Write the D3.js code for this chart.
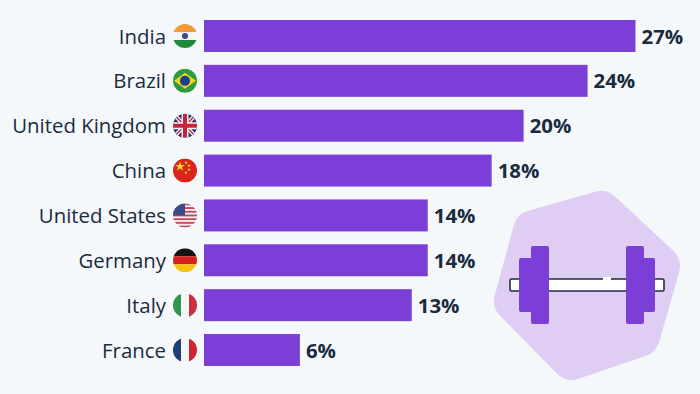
<!DOCTYPE html>
<html>
<head>
<meta charset="utf-8">
<script src="https://cdn.jsdelivr.net/npm/d3@7"></script>
<style>
html, body { margin: 0; padding: 0; background: #f4f8fb; }
svg { display: block; }
text { font-family: "Open Sans", sans-serif; }
</style>
</head>
<body>
<div class="canvas"></div>
<script>
// data
const countries = ['India', 'Brazil', 'United Kingdom', 'China', 'United States', 'Germany', 'Italy', 'France'];
const shares = [27, 24, 20, 18, 14, 14, 13, 6];

const width = 700;
const height = 394;
const textColor = '#1b2b3d';
const barColor = '#7b3fd8';

const svg = d3.select('.canvas')
  .append('svg')
  .attr('width', width)
  .attr('height', height);

// scales
const x = d3.scaleLinear()
  .domain([0, 27])
  .range([204, 635.5]);

const y = d3.scaleBand()
  .domain(countries)
  .range([20, 366])
  .paddingInner(0.287);

// blob behind the dumbbell
svg.append('path')
  .attr('d', 'M601 212 L659 266 L639 336 L572 359 L515 301 L534 231 Z')
  .attr('fill', '#dfcdf3')
  .attr('stroke', '#dfcdf3')
  .attr('stroke-width', 42)
  .attr('stroke-linejoin', 'round');

// bars
svg.selectAll('rect.bar')
  .data(countries)
  .enter()
  .append('rect')
  .attr('class', 'bar')
  .attr('x', x(0))
  .attr('y', d => y(d))
  .attr('width', (d, i) => x(shares[i]) - x(0))
  .attr('height', y.bandwidth())
  .attr('fill', barColor);

// value labels
svg.selectAll('text.value')
  .data(countries)
  .enter()
  .append('text')
  .attr('class', 'value')
  .attr('x', (d, i) => x(shares[i]) + 6)
  .attr('y', d => y(d) + y.bandwidth() / 2 + 0.5)
  .attr('dy', '0.35em')
  .attr('font-size', 20.4)
  .attr('font-weight', 700)
  .attr('fill', textColor)
  .text((d, i) => shares[i] + '%');

// country labels
const yAxis = d3.axisLeft(y).tickSize(0).tickPadding(0);
const yAxisGroup = svg.append('g')
  .attr('transform', 'translate(166,1)')
  .call(yAxis);
yAxisGroup.select('.domain').remove();
yAxisGroup.selectAll('text')
  .attr('font-family', '"Open Sans", sans-serif')
  .attr('font-size', 20.4)
  .attr('fill', textColor);

// flags, drawn in a 24x24 box centred on 0,0
const flagDraw = {
  India: g => {
    band(g, -12, 8, '#f29a38'); band(g, -4, 8, '#f6f6f4'); band(g, 4, 8, '#1f8a3c');
    g.append('circle').attr('r', 3).attr('fill', '#3b4a86');
  },
  Brazil: g => {
    band(g, -12, 24, '#2f9a3e');
    g.append('path').attr('d', 'M-11 0 L0 -8 L11 0 L0 8 Z').attr('fill', '#f4d21f');
    g.append('circle').attr('r', 5).attr('fill', '#1d3f8f');
  },
  'United Kingdom': g => {
    band(g, -12, 24, '#27336f');
    g.append('path').attr('d', 'M-12 -12 L12 12 M12 -12 L-12 12').attr('stroke', '#f4f4f4').attr('stroke-width', 4);
    g.append('path').attr('d', 'M-12 -12 L12 12 M12 -12 L-12 12').attr('stroke', '#c8233d').attr('stroke-width', 1.4);
    g.append('path').attr('d', 'M0 -12 V12 M-12 0 H12').attr('stroke', '#f4f4f4').attr('stroke-width', 7);
    g.append('path').attr('d', 'M0 -12 V12 M-12 0 H12').attr('stroke', '#c8233d').attr('stroke-width', 4);
  },
  China: g => {
    band(g, -12, 24, '#d9251c');
    g.append('path').attr('d', d3.symbol(d3.symbolStar, 30)).attr('transform', 'translate(-5,-4)').attr('fill', '#f8d81e');
    [[1, -8], [4, -5], [4, -1], [1, 2]].forEach(p => {
      g.append('path').attr('d', d3.symbol(d3.symbolStar, 4)).attr('transform', `translate(${p})`).attr('fill', '#f8d81e');
    });
  },
  'United States': g => {
    band(g, -12, 24, '#f3f1f1');
    d3.range(0, 7).forEach(i => band(g, -12 + i * 3.7, 1.85, '#c4485c'));
    g.append('rect').attr('x', -12).attr('y', -12).attr('width', 12).attr('height', 12).attr('fill', '#3e4a86');
  },
  Germany: g => {
    band(g, -12, 8, '#141414'); band(g, -4, 8, '#d8201f'); band(g, 4, 8, '#f6c40f');
  },
  Italy: g => {
    stripe(g, -12, '#2f9650'); stripe(g, -4, '#f6f6f4'); stripe(g, 4, '#c9313d');
  },
  France: g => {
    stripe(g, -12, '#1d3f78'); stripe(g, -4, '#f6f6f4'); stripe(g, 4, '#cf2530');
  }
};

function band(g, top, h, color) {
  g.append('rect').attr('x', -12).attr('y', top).attr('width', 24).attr('height', h).attr('fill', color);
}
function stripe(g, left, color) {
  g.append('rect').attr('x', left).attr('y', -12).attr('width', 8).attr('height', 24).attr('fill', color);
}

svg.append('defs').append('clipPath')
  .attr('id', 'flagClip')
  .append('circle')
  .attr('r', 12);

countries.forEach(c => {
  const g = svg.append('g')
    .attr('transform', `translate(185,${y(c) + y.bandwidth() / 2})`)
    .append('g')
    .attr('clip-path', 'url(#flagClip)');
  flagDraw[c](g);
});

// dumbbell icon
const icon = svg.append('g');
icon.append('rect')
  .attr('x', 510).attr('y', 279).attr('width', 154).attr('height', 12).attr('rx', 1.5)
  .attr('fill', '#fff').attr('stroke', '#1f2a44').attr('stroke-width', 1.6);
icon.append('rect').attr('x', 603).attr('y', 277).attr('width', 8).attr('height', 4).attr('fill', '#fff');
[[531, 246, 18, 78], [519, 258, 20, 54], [626, 246, 18, 78], [636, 258, 19, 54]].forEach(r => {
  icon.append('rect')
    .attr('x', r[0]).attr('y', r[1]).attr('width', r[2]).attr('height', r[3]).attr('rx', 2)
    .attr('fill', barColor);
});
</script>
</body>
</html>
